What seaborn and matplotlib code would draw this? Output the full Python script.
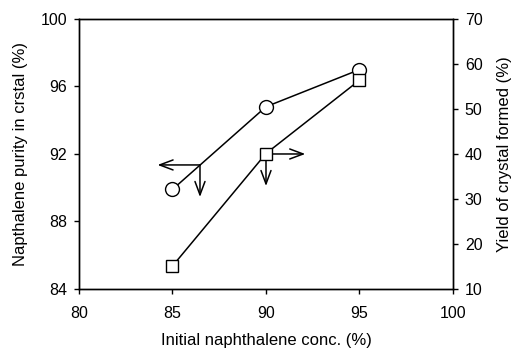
import matplotlib
matplotlib.use("Agg")
import matplotlib.pyplot as plt
import seaborn as sns
import pandas as pd

conc = [85, 90, 95]
purity = [89.9, 94.8, 97.0]
yield_pct = [15.1, 40.1, 56.4]

x_ticks = [80, 85, 90, 95, 100]
left_ticks = [84, 88, 92, 96, 100]
right_ticks = [10, 20, 30, 40, 50, 60, 70]

sns.set_theme(style="ticks")
plt.rcParams['font.family'] = ['Liberation Sans', 'DejaVu Sans']

df = pd.DataFrame({"conc": conc, "purity": purity, "yield": yield_pct})

fig = plt.figure(figsize=(5.14, 3.49), dpi=100)
ax = fig.add_axes([0.1537, 0.172, 0.7276, 0.7736])
ax2 = ax.twinx()

sns.lineplot(data=df, x="conc", y="purity", ax=ax, color="black", lw=1.1,
             marker="o", markersize=10, markerfacecolor="white",
             markeredgecolor="black", markeredgewidth=1.0)
sns.lineplot(data=df, x="conc", y="yield", ax=ax2, color="black", lw=1.1,
             marker="s", markersize=8.5, markerfacecolor="white",
             markeredgecolor="black", markeredgewidth=1.0)

ax.set_xlim(80, 100)
ax.set_ylim(84, 100)
ax2.set_ylim(10, 70)
ax.set_xticks(x_ticks)
ax.set_yticks(left_ticks)
ax2.set_yticks(right_ticks)

fs = 12
tfs = 11.5
ax.set_xlabel("Initial naphthalene conc. (%)", fontsize=fs, color="black", labelpad=9)
ax.set_ylabel("Napthalene purity in crstal (%)", fontsize=fs, color="black", labelpad=9)
ax2.set_ylabel("Yield of crystal formed (%)", fontsize=fs, color="black", labelpad=10.5)
for a in (ax, ax2):
    a.tick_params(labelsize=tfs, colors="black", length=3.5, width=1, direction="out", pad=5)
    for s in a.spines.values():
        s.set_color("black")
        s.set_linewidth(1.0)
ax.tick_params(axis="x", pad=8.5)

arrow = dict(arrowstyle="->,head_length=0.8,head_width=0.3", color="black", lw=1.1,
             shrinkA=0, shrinkB=0)
# left-axis arrows
ax.annotate("", xy=(84.2, 91.35), xytext=(86.47, 91.35), arrowprops=arrow)
ax.annotate("", xy=(86.47, 89.45), xytext=(86.47, 91.35), arrowprops=arrow)
# right-axis arrows
ax.annotate("", xy=(92.1, 92.0), xytext=(90.0, 92.0), arrowprops=arrow)
ax.annotate("", xy=(90.0, 90.1), xytext=(90.0, 92.0), arrowprops=arrow)

fig.savefig("out.png", dpi=100)
